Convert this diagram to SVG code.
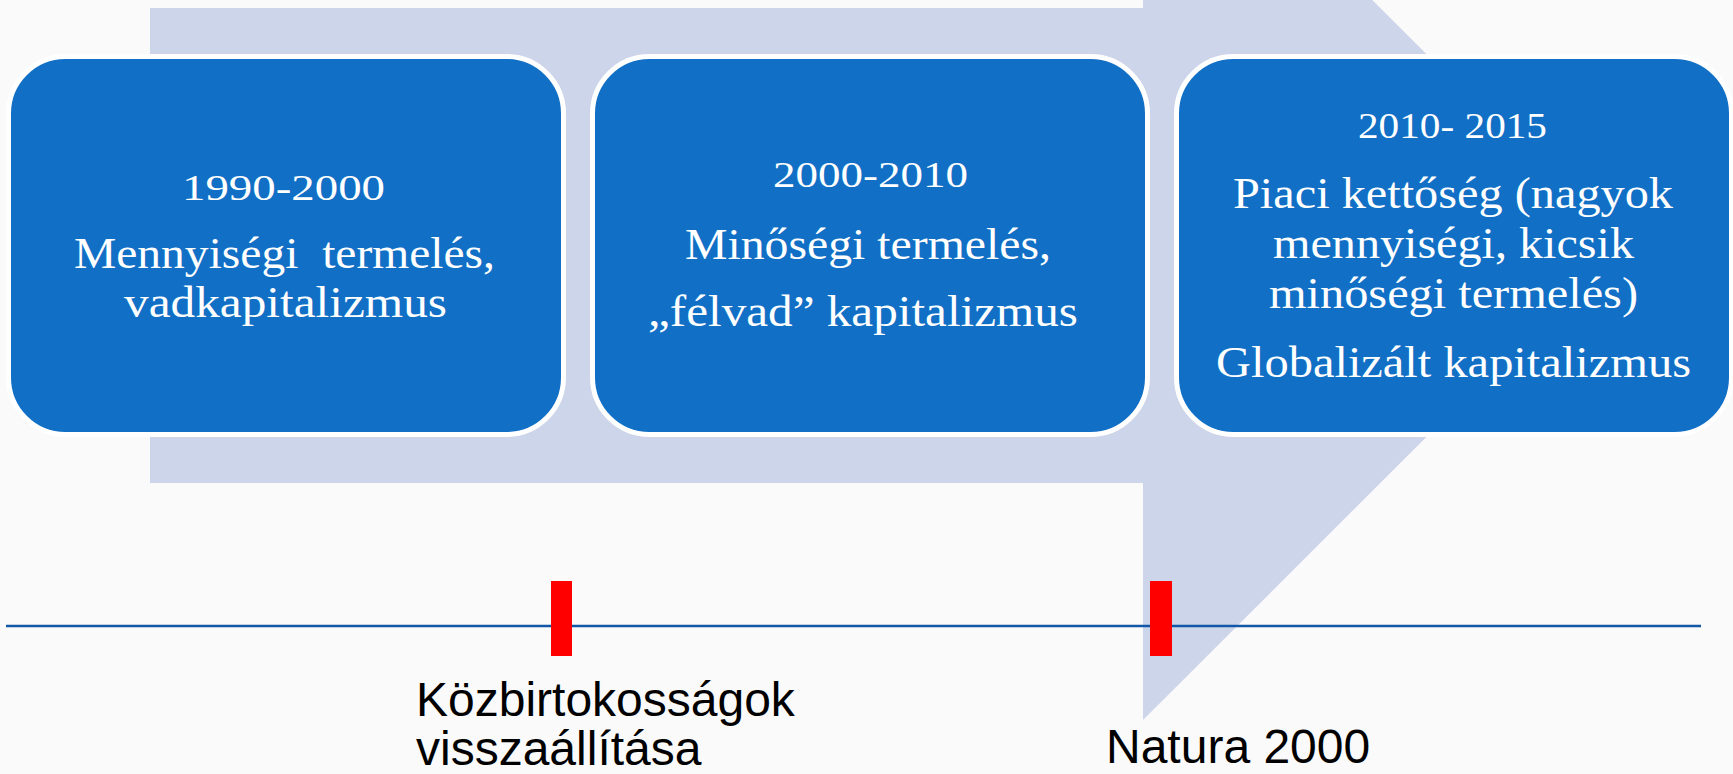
<svg xmlns="http://www.w3.org/2000/svg" width="1733" height="774" viewBox="0 0 1733 774">
  <style>
    .box { fill: #1170c6; stroke: #ffffff; stroke-width: 5; }
    .t { font-family: "Liberation Serif", "DejaVu Serif", serif; fill: #ffffff; text-anchor: middle; }
    .yr { font-size: 36px; }
    .bd { font-size: 44px; }
    .lbl { font-family: "Liberation Sans", Arial, sans-serif; font-size: 48px; fill: #000000; }
    .mark { fill: #ff0000; }
  </style>
  <rect x="0" y="0" width="1733" height="774" fill="#fafafa"/>
  <g id="arrow">
    <polygon points="150,8 1143,8 1143,-229 1618,245.5 1143,720 1143,483 150,483" fill="#cdd5ea"/>
  </g>
  <g id="box1">
    <rect class="box" x="8.5" y="56.5" width="555" height="378" rx="57" ry="57"/>
    <text class="t yr" x="283.5" y="200" textLength="203" lengthAdjust="spacingAndGlyphs">1990-2000</text>
    <text class="t bd" x="284.5" y="268" textLength="421" lengthAdjust="spacingAndGlyphs" xml:space="preserve">Mennyiségi  termelés,</text>
    <text class="t bd" x="285.5" y="317" textLength="323" lengthAdjust="spacingAndGlyphs">vadkapitalizmus</text>
  </g>
  <g id="box2">
    <rect class="box" x="592.5" y="56.5" width="555" height="378" rx="57" ry="57"/>
    <text class="t yr" x="870.5" y="187" textLength="195" lengthAdjust="spacingAndGlyphs">2000-2010</text>
    <text class="t bd" x="868" y="259" textLength="366" lengthAdjust="spacingAndGlyphs">Minőségi termelés,</text>
    <text class="t bd" x="863" y="326" textLength="430" lengthAdjust="spacingAndGlyphs">„félvad” kapitalizmus</text>
  </g>
  <g id="box3">
    <rect class="box" x="1176.5" y="56.5" width="555" height="378" rx="57" ry="57"/>
    <text class="t yr" x="1452.5" y="138" textLength="189" lengthAdjust="spacingAndGlyphs">2010- 2015</text>
    <text class="t bd" x="1453" y="208" textLength="440" lengthAdjust="spacingAndGlyphs">Piaci kettőség (nagyok</text>
    <text class="t bd" x="1453.5" y="258" textLength="361" lengthAdjust="spacingAndGlyphs">mennyiségi, kicsik</text>
    <text class="t bd" x="1453.5" y="308" textLength="369" lengthAdjust="spacingAndGlyphs">minőségi termelés)</text>
    <text class="t bd" x="1453.5" y="377" textLength="475" lengthAdjust="spacingAndGlyphs">Globalizált kapitalizmus</text>
  </g>
  <g id="connectors">
    <line x1="6" y1="626" x2="1701" y2="626" stroke="#1258a6" stroke-width="2.5"/>
  </g>
  <g id="marker1">
    <rect class="mark" x="551" y="581" width="21" height="75"/>
  </g>
  <g id="marker2">
    <rect class="mark" x="1150" y="581" width="22" height="75"/>
  </g>
  <g id="label1">
    <text class="lbl" x="416" y="716">Közbirtokosságok</text>
    <text class="lbl" x="416" y="765">visszaállítása</text>
  </g>
  <g id="label2">
    <text class="lbl" x="1106" y="763">Natura 2000</text>
  </g>
</svg>
